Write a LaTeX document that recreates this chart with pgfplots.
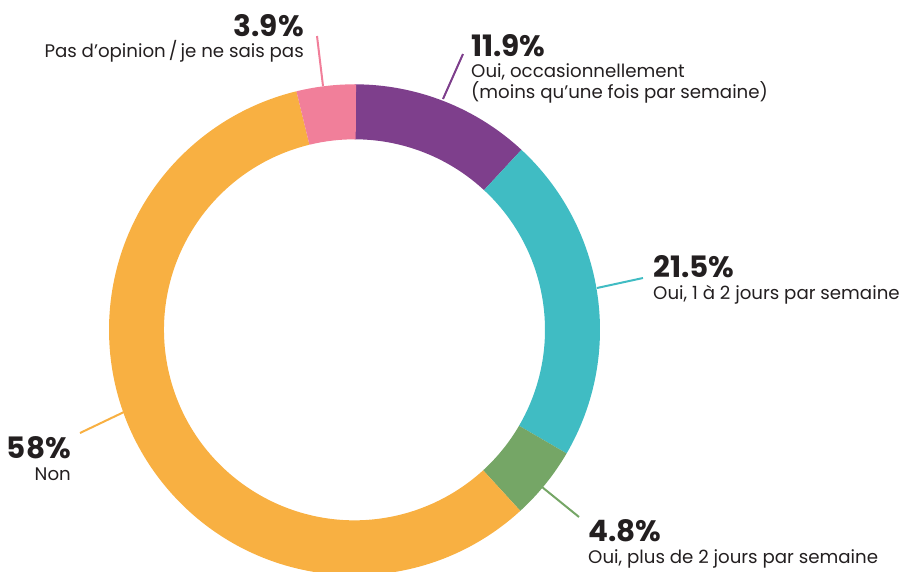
\documentclass[border=0pt]{standalone}
\usepackage{fontspec}
\setmainfont{Poppins}
\usepackage{pgfplots}
\pgfplotsset{compat=1.18}

\definecolor{cpurple}{HTML}{7E3F8C}
\definecolor{cteal}{HTML}{40BCC3}
\definecolor{cgreen}{HTML}{75A666}
\definecolor{corange}{HTML}{F8B042}
\definecolor{cpink}{HTML}{F17F9A}
\definecolor{ctext}{HTML}{231F20}

% share of answers, clockwise from the top
\newcommand{\slices}{11.9/cpurple, 21.5/cteal, 4.8/cgreen, 58/corange, 3.9/cpink}

\newcommand{\pct}[1]{{\fontsize{29.5}{32}\selectfont\bfseries #1}}
\newcommand{\lbl}{\fontsize{18.2}{21}\selectfont}

\begin{document}
\begin{tikzpicture}
\begin{axis}[
  scale only axis,
  width=906pt, height=571pt,
  xmin=0, xmax=906, ymin=0, ymax=571,
  y dir=reverse,
  hide axis,
  clip=true,
]
% donut
\xdef\cum{0}
\begin{scope}[shift={(axis cs:354.5,329.8)}]
\foreach \v/\col in \slices {
  \pgfmathsetmacro\aa{90-3.6*\cum}
  \pgfmathsetmacro\ab{90-3.6*(\cum+\v)}
  \edef\tmp{\noexpand\fill[\col] (\aa:245.5pt) arc[start angle=\aa, end angle=\ab, radius=245.5pt]
    -- (\ab:190.5pt) arc[start angle=\ab, end angle=\aa, radius=190.5pt] -- cycle;}
  \tmp
  \pgfmathsetmacro\nc{\cum+\v}
  \xdef\cum{\nc}
}
\end{scope}

% leader lines
\draw[cpink, line width=2pt] (axis cs:317,36) -- (axis cs:323,86);
\draw[cpurple, line width=2pt] (axis cs:463,54) -- (axis cs:443,99);
\draw[cteal, line width=2pt] (axis cs:597,288) -- (axis cs:643,278);
\draw[cgreen, line width=2pt] (axis cs:542,487) -- (axis cs:579,517);
\draw[corange, line width=2pt] (axis cs:80,433) -- (axis cs:124,412);

% labels
\node[anchor=base east, text=ctext, inner sep=0pt] at (axis cs:304,36) {\pct{3.9\%}};
\node[anchor=base east, text=ctext, inner sep=0pt] at (axis cs:304,57.3) {\lbl Pas d’opinion\,/\,je ne sais pas};

\node[anchor=base west, text=ctext, inner sep=0pt] at (axis cs:471,56.7) {\pct{11.9\%}};
\node[anchor=base west, text=ctext, inner sep=0pt] at (axis cs:471,77.3) {\lbl Oui, occasionnellement};
\node[anchor=base west, text=ctext, inner sep=0pt] at (axis cs:471,98.3) {\lbl (moins qu’une fois par semaine)};

\node[anchor=base west, text=ctext, inner sep=0pt] at (axis cs:653,277.3) {\pct{21.5\%}};
\node[anchor=base west, text=ctext, inner sep=0pt] at (axis cs:653,299.3) {\lbl Oui, 1 à 2 jours par semaine};

\node[anchor=base west, text=ctext, inner sep=0pt] at (axis cs:588,541.7) {\pct{4.8\%}};
\node[anchor=base west, text=ctext, inner sep=0pt] at (axis cs:588,563.3) {\lbl Oui, plus de 2 jours par semaine};

\node[anchor=base east, text=ctext, inner sep=0pt] at (axis cs:71,458.3) {\pct{58\%}};
\node[anchor=base east, text=ctext, inner sep=0pt] at (axis cs:71,480) {\lbl Non};
\end{axis}
\pgfresetboundingbox
\path[use as bounding box] (0,0) rectangle (906pt,571pt);
\end{tikzpicture}
\end{document}
